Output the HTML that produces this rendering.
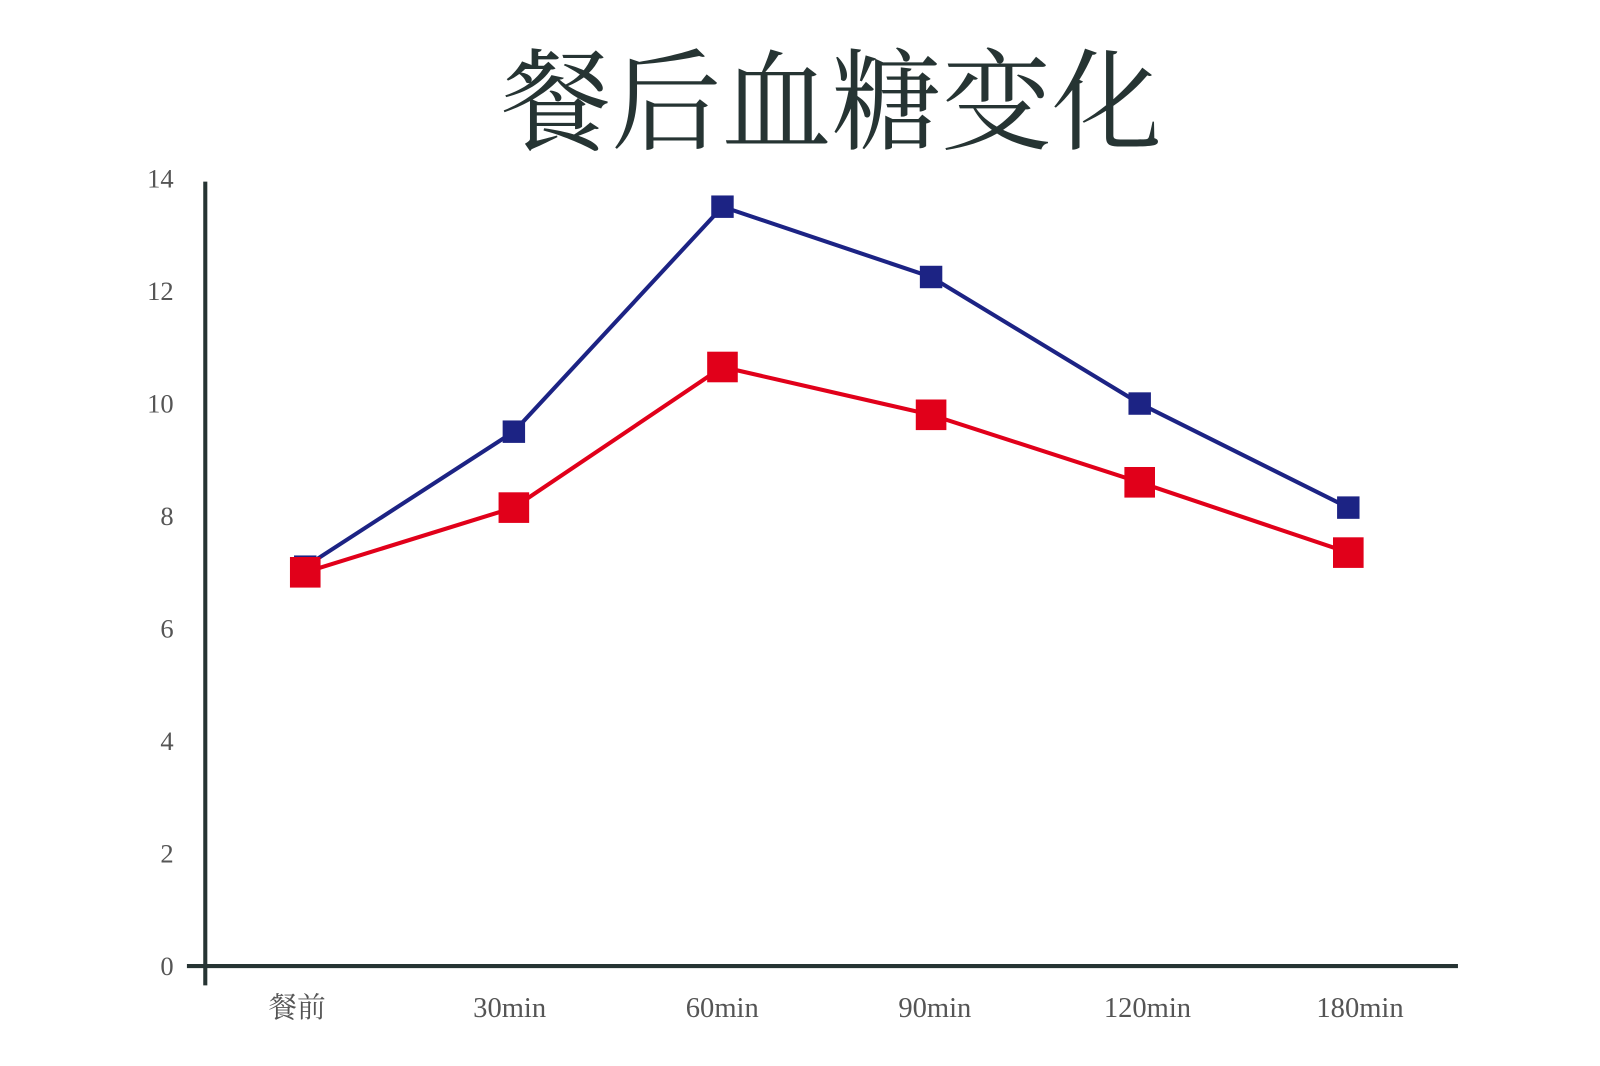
<!DOCTYPE html>
<html><head><meta charset="utf-8"><style>
body{margin:0;background:#fff;}
svg{display:block;}
</style></head><body>
<svg id="chart" width="1600" height="1066" viewBox="0 0 1568 1045" xmlns="http://www.w3.org/2000/svg">
<text x="815" y="138" text-anchor="middle" font-family="'Liberation Serif','Noto Serif CJK SC',serif" font-size="108" fill="#263433">餐后血糖变化</text>
<g id="plot"></g>
</svg>
<script>
const categories=["餐前","30min","60min","90min","120min","180min"];
const seriesA=[7.1,9.5,13.5,12.25,10.0,8.15];
const seriesB=[7.0,8.15,10.65,9.8,8.6,7.35];
const yTicks=[0,2,4,6,8,10,12,14];
const NS="http://www.w3.org/2000/svg";
const g=document.getElementById('plot');
const x=i=>299+i*204.5;
const lx=i=>291+i*208.4;
const y=v=>947-v*55.14;
function el(t,a){const e=document.createElementNS(NS,t);for(const k in a)e.setAttribute(k,a[k]);g.appendChild(e);return e;}
let e=el('line',{x1:201,y1:178,x2:201,y2:966,stroke:'#263433','stroke-width':4});


e=el('line',{x1:183,y1:947,x2:1429,y2:947,stroke:'#263433','stroke-width':4});


yTicks.forEach(v=>{const t=el('text',{x:170,y:y(v)+9,'text-anchor':'end','font-family':"'Liberation Serif',serif",'font-size':26,fill:'#555'});t.textContent=v;

});
categories.forEach((c,i)=>{const t=el('text',{x:lx(i),y:997,'text-anchor':'middle','font-family':"'Liberation Serif','Noto Serif CJK SC',serif",'font-size':28,fill:'#555'});t.textContent=c;

});
function series(data,color,size,name){
const p=el('polyline',{points:data.map((v,i)=>x(i)+','+y(v)).join(' '),fill:'none',stroke:color,'stroke-width':4});


data.forEach((v,i)=>{const r=el('rect',{x:x(i)-size/2,y:y(v)-size/2,width:size,height:size,fill:color});

});
}
series(seriesA,'#1c2384',22,'series-a');
series(seriesB,'#e1001a',30,'series-b');
</script>
</body></html>
